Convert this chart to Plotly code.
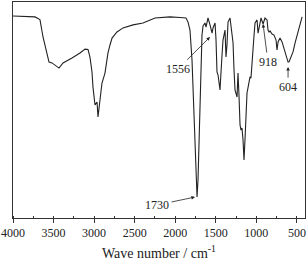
import plotly.graph_objects as go

wavenumber = [4000, 3852, 3729, 3692, 3667, 3630, 3593, 3556, 3519, 3482, 3433, 3383, 3334, 3273,
              3174, 3112, 3075, 3051, 3026, 3014, 2989, 2977, 2964, 2952, 2927, 2903, 2866, 2829,
              2804, 2779, 2718, 2644, 2520, 2397, 2249, 2064, 1941, 1867, 1842, 1818, 1793, 1768,
              1744, 1731, 1719, 1694, 1670, 1657, 1633, 1620, 1596, 1571, 1546, 1534, 1509, 1497,
              1485, 1472, 1448, 1423, 1411, 1386, 1374, 1362, 1349, 1324, 1312, 1287, 1275, 1263,
              1238, 1226, 1214, 1201, 1189, 1177, 1164, 1152, 1140, 1127, 1115, 1103, 1078, 1066,
              1053, 1028, 1016, 991, 979, 967, 942, 917, 893, 868, 856, 843, 831, 806, 782, 757,
              745, 732, 708, 683, 658, 634, 609, 597, 572, 548, 523, 498, 473, 436]
transmittance = [93.5, 93.3, 93.1, 92.4, 91.7, 83.8, 77.8, 72.2, 71.8, 70.8, 69.4, 71.8, 72.7, 74.1,
                 76.4, 78.2, 78.0, 74.5, 67.6, 60.6, 52.3, 53.2, 53.7, 46.8, 54.6, 62.5, 67.1, 76.4,
                 80.1, 83.3, 86.1, 88.0, 89.4, 90.3, 92.6, 93.1, 92.8, 92.6, 90.7, 87.0, 73.1, 45.4,
                 17.6, 9.7, 17.6, 50.0, 84.7, 88.9, 90.3, 88.4, 92.6, 89.4, 85.6, 88.0, 90.3, 82.4,
                 67.6, 66.2, 59.3, 75.5, 82.4, 87.0, 74.5, 80.1, 90.7, 92.6, 89.4, 81.0, 68.5, 59.3,
                 56.0, 67.1, 56.9, 43.1, 40.7, 41.7, 36.1, 26.9, 36.1, 50.0, 57.9, 60.2, 65.3, 64.8,
                 73.1, 84.7, 90.3, 91.7, 85.6, 88.0, 92.6, 89.8, 92.6, 91.7, 87.0, 86.1, 86.6, 85.2,
                 84.7, 82.4, 77.8, 81.5, 83.3, 81.5, 78.7, 75.0, 72.2, 72.2, 74.5, 76.9, 81.0, 84.7,
                 88.0, 93.1]

x_ticks = [4000, 3500, 3000, 2500, 2000, 1500, 1000, 500]
x_title = "Wave number / cm<sup>-1</sup>"

# annotations: label, label position (x, y), arrow tip (x, y)
peak_labels = ["1730", "1556", "918", "604"]
label_x = [2224, 1966, 856, 609]
label_y = [6.0, 69.0, 72.2, 60.6]
tip_x = [1756, 1571, 917, 609]
tip_y = [9.7, 83.8, 89.8, 69.9]

FONT = "Liberation Serif"

fig = go.Figure()
fig.add_trace(go.Scatter(x=wavenumber, y=transmittance, mode="lines",
                         line=dict(color="#222222", width=1.1), showlegend=False,
                         hoverinfo="skip"))

for lab, lx, ly, tx, ty in zip(peak_labels, label_x, label_y, tip_x, tip_y):
    fig.add_annotation(x=tx, y=ty, ax=lx, ay=ly, axref="x", ayref="y", xref="x", yref="y",
                       text=lab, showarrow=True, arrowhead=2, arrowsize=0.9, arrowwidth=0.8,
                       arrowcolor="#222222", standoff=0, startstandoff=1,
                       font=dict(family=FONT, size=12, color="#222222"))

# x-axis title placed as a paper annotation below the tick labels
fig.add_annotation(x=0.5, y=-0.158, xref="paper", yref="paper", text=x_title,
                   showarrow=False, xanchor="center", yanchor="middle",
                   font=dict(family=FONT, size=14, color="#222222"))

fig.update_layout(
    width=307, height=262,
    margin=dict(l=13, r=2, t=2, b=44),
    paper_bgcolor="white", plot_bgcolor="white",
    font=dict(family=FONT, size=12, color="#222222"),
    xaxis=dict(range=[4000, 400], tickvals=x_ticks, ticks="outside", ticklen=4,
               tickwidth=1, tickcolor="#333333", automargin=False,
               minor=dict(ticks="inside", dtick=250, tick0=0, ticklen=2, tickcolor="#333333"),
               showline=True, linecolor="#333333", linewidth=1, mirror=True,
               showgrid=False, zeroline=False,
               tickfont=dict(family=FONT, size=12)),
    yaxis=dict(range=[0, 100], showticklabels=False, ticks="", showline=True, automargin=False,
               linecolor="#333333", linewidth=1, mirror=True, showgrid=False, zeroline=False),
)

fig.write_html("out.html", config={"displayModeBar": False},
               post_script="document.body.style.margin='0';document.body.style.overflow='hidden';")
